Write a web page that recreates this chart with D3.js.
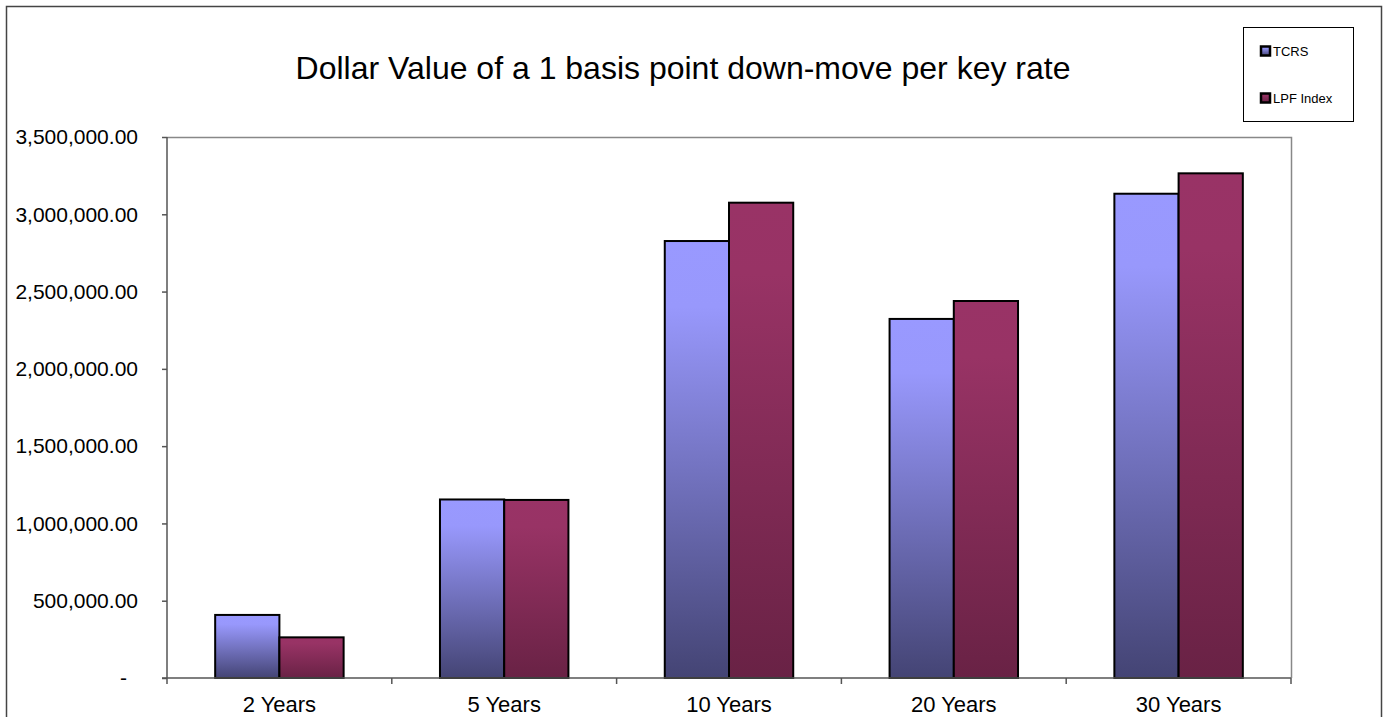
<!DOCTYPE html>
<html>
<head>
<meta charset="utf-8">
<script src="https://cdn.jsdelivr.net/npm/d3@7/dist/d3.min.js"></script>
<style>
  body { margin: 0; background: #fff; }
  svg { display: block; font-family: "Liberation Sans", Arial, sans-serif; }
</style>
</head>
<body>
<div class="chart"></div>
<script>
// data
var categories = ["2 Years", "5 Years", "10 Years", "20 Years", "30 Years"];
var seriesNames = ["TCRS", "LPF Index"];
var tcrs = [408000, 1155000, 2827000, 2323000, 3133000];
var lpf = [263000, 1152000, 3075000, 2439000, 3265000];
var yTicks = [0, 500000, 1000000, 1500000, 2000000, 2500000, 3000000, 3500000];

var width = 1388,
  height = 717;
var plotLeft = 167, plotRight = 1291, plotTop = 137, plotBottom = 678;

var svg = d3.select(".chart")
  .append("svg")
  .attr("width", width)
  .attr("height", height);

// gradients for the bars
var defs = svg.append("defs");
var grads = [
  { id: "g0", stops: [[0, "#9999ff"], [0.15, "#9898fc"], [1, "#444474"]] },
  { id: "g1", stops: [[0, "#993366"], [0.15, "#983365"], [1, "#692245"]] }
];
grads.forEach(function(g) {
  var lg = defs.append("linearGradient")
    .attr("id", g.id)
    .attr("x1", 0).attr("y1", 0)
    .attr("x2", 0).attr("y2", 1);
  g.stops.forEach(function(s) {
    lg.append("stop").attr("offset", s[0]).attr("stop-color", s[1]);
  });
});

// outer chart border (bottom is cut off)
svg.append("path")
  .attr("d", "M6.5," + (height + 2) + "V6.5H1381.5V" + (height + 2))
  .attr("fill", "none")
  .attr("stroke", "#444")
  .attr("stroke-width", 1.5);

// title
svg.append("text")
  .attr("x", 683)
  .attr("y", 79)
  .attr("text-anchor", "middle")
  .attr("font-size", 32)
  .attr("fill", "#000")
  .text("Dollar Value of a 1 basis point down-move per key rate");

var x = d3.scaleBand()
  .domain(categories)
  .range([plotLeft, plotRight])
  .paddingInner(0)
  .paddingOuter(0);

var y = d3.scaleLinear()
  .domain([0, 3500000])
  .range([plotBottom, plotTop]);

var x1 = d3.scaleBand()
  .domain(seriesNames)
  .range([0, x.bandwidth()])
  .paddingOuter(0.75)
  .paddingInner(0);

// plot area frame (top and right)
svg.append("path")
  .attr("d", "M" + plotLeft + "," + (plotTop + 0.5) + "H" + (plotRight + 0.5) + "V" + plotBottom)
  .attr("fill", "none")
  .attr("stroke", "#888")
  .attr("stroke-width", 1.5);

// bars
var data = [tcrs, lpf];
var groups = svg.append("g")
  .selectAll("g")
  .data(data)
  .enter()
  .append("g")
  .attr("fill", function(d, i) { return "url(#g" + i + ")"; });

groups.selectAll("rect")
  .data(function(d, i) {
    return d.map(function(v, j) { return { s: i, c: categories[j], v: v }; });
  })
  .enter()
  .append("rect")
  .attr("x", function(d) { return x(d.c) + x1(seriesNames[d.s]); })
  .attr("y", function(d) { return y(d.v); })
  .attr("width", x1.bandwidth())
  .attr("height", function(d) { return y(0) - y(d.v); })
  .attr("stroke", "#000")
  .attr("stroke-width", 2);

// y axis
var yAxis = d3.axisLeft(y)
  .tickValues(yTicks)
  .tickSize(5)
  .tickPadding(24)
  .tickFormat(function(d) {
    return d === 0 ? "-" : d3.format(",.2f")(d);
  });

var gy = svg.append("g")
  .attr("transform", "translate(" + plotLeft + ",0)")
  .call(yAxis);
gy.select(".domain").attr("stroke", "#555").attr("stroke-width", 1.5)
  .attr("d", "M0," + plotTop + "V" + plotBottom);
gy.selectAll(".tick line").attr("stroke", "#555").attr("stroke-width", 1.5);
gy.selectAll(".tick text")
  .attr("font-size", 21)
  .attr("font-family", "Liberation Sans, Arial, sans-serif")
  .attr("fill", "#000")
  .attr("dx", function(d) { return d === 0 ? -11 : 0; });

// x axis
var xAxis = d3.axisBottom(x)
  .tickSize(0)
  .tickPadding(18);

var gx = svg.append("g")
  .attr("transform", "translate(0," + plotBottom + ")")
  .call(xAxis);
gx.select(".domain").attr("stroke", "#555").attr("stroke-width", 1.5)
  .attr("d", "M" + (plotLeft - 5) + ",0H" + plotRight);
gx.selectAll(".tick text")
  .attr("font-size", 22)
  .attr("font-family", "Liberation Sans, Arial, sans-serif")
  .attr("fill", "#000");

// category separators below axis
gx.selectAll(".sep")
  .data(categories.concat(["end"]))
  .enter()
  .append("line")
  .attr("x1", function(d, i) { return i < categories.length ? x(d) : plotRight; })
  .attr("x2", function(d, i) { return i < categories.length ? x(d) : plotRight; })
  .attr("y1", 0)
  .attr("y2", 6)
  .attr("stroke", "#555")
  .attr("stroke-width", 1.5);

// legend
var lg = svg.append("g");
lg.append("rect")
  .attr("x", 1243.5)
  .attr("y", 27.5)
  .attr("width", 110)
  .attr("height", 94)
  .attr("fill", "#fff")
  .attr("stroke", "#000")
  .attr("stroke-width", 1);

var items = lg.selectAll(".item")
  .data(seriesNames)
  .enter()
  .append("g")
  .attr("transform", function(d, i) {
    return "translate(1261," + (51 + i * 47) + ")";
  });

items.append("rect")
  .attr("x", 0)
  .attr("y", -4.5)
  .attr("width", 9)
  .attr("height", 9)
  .attr("fill", function(d, i) { return "url(#g" + i + ")"; })
  .attr("stroke", "#000")
  .attr("stroke-width", 2.5);

items.append("text")
  .attr("x", 12)
  .attr("y", 5)
  .attr("font-size", 13)
  .attr("fill", "#000")
  .text(function(d) { return d; });
</script>
</body>
</html>
